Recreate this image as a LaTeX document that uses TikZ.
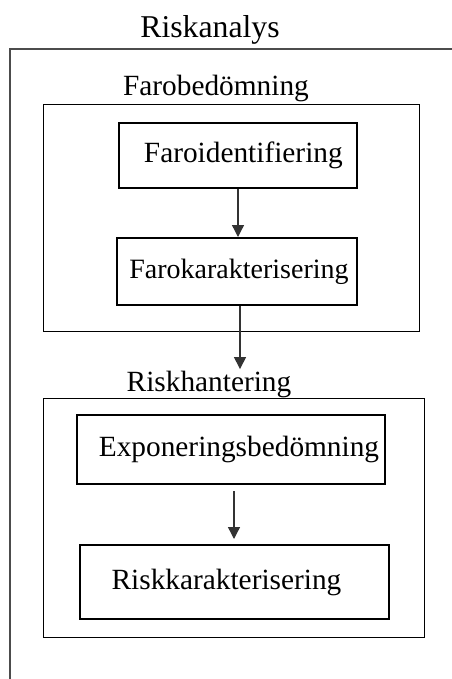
\documentclass[tikz,border=0pt]{standalone}
\usepackage{fontspec}
\setmainfont{Liberation Serif}
\usetikzlibrary{arrows.meta,positioning}

\begin{document}
\begin{tikzpicture}
	% Styles
	[
	x=0.75pt, y=-0.75pt,
	stage/.style={rectangle, draw=black, line width=1.5pt, inner sep=0pt, font=\fontsize{22}{25}\selectfont},
	group/.style={rectangle, draw=black, line width=0.75pt, inner sep=0pt},
	title/.style={inner sep=1pt, font=\fontsize{22}{25}\selectfont},
	flow/.style={draw=black!80, line width=1pt, -{Triangle[length=9pt, width=9pt]}}
	]
	\useasboundingbox (0,0) rectangle (452,679);

	% Frame
	\node at (210,30)	(riskanalys)	[title, font=\fontsize{23.8}{27}\selectfont] {Riskanalys};
	\draw[black!70, line width=0.9pt] (10,679) -- (10,49) -- (452,49);

	% Groups
	\node at (231,217.5)	(faro)	[group, minimum width=282pt, minimum height=170.25pt] {};
	\node at (233.5,517.5)	(hant)	[group, minimum width=285.75pt, minimum height=179.25pt] {};
	\node at (216,88)	(farolabel)	[title] {Farobedömning};
	\node at (209,384)	(hantlabel)	[title] {Riskhantering};

	% Nodes
	\node at (238,155.5)	(faroid)	[stage, minimum width=178.5pt, minimum height=48.75pt] {\hspace{8pt}Faroidentifiering};
	\node at (237,271.5)	(farokar)	[stage, minimum width=180pt, minimum height=50.25pt, font=\fontsize{21}{24}\selectfont] {\hspace{3pt}Farokarakterisering};
	\node at (231,449.5)	(expo)	[stage, minimum width=231pt, minimum height=51.75pt] {\hspace{12pt}Exponeringsbedömning};
	\node at (234.5,582)	(riskkar)	[stage, minimum width=231.75pt, minimum height=55.5pt] {Riskkarakterisering\kern12pt};

	% Connections
	\draw[flow] (faroid.south) -- (faroid.south |- farokar.north);
	\draw[flow] ([xshift=2.25pt]farokar.south) -- ([xshift=2.25pt]farokar.south |- hantlabel.north);
	\draw[flow, shorten <=4.5pt, shorten >=3.75pt] ([xshift=2.25pt]expo.south) -- ([xshift=2.25pt]expo.south |- riskkar.north);

\end{tikzpicture}
\end{document}
